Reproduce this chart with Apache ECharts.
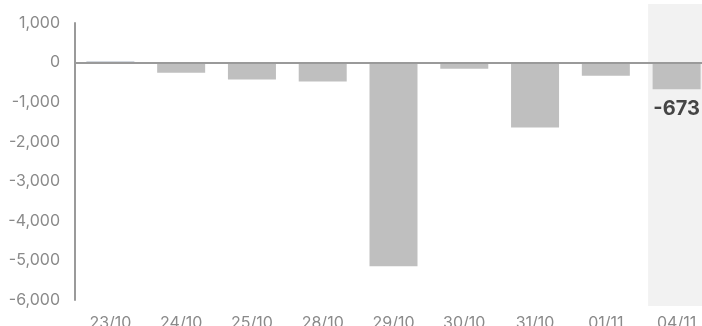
<!DOCTYPE html>
<html>
<head>
<meta charset="utf-8">
<script src="https://cdn.jsdelivr.net/npm/echarts@6/dist/echarts.min.js"></script>
<style>
  html, body { margin: 0; padding: 0; background: #ffffff; overflow: hidden; }
  /* the last category band runs a little past the visible edge */
  #chart { width: 712px; height: 326px; }
</style>
</head>
<body>
<div id="chart"></div>
<script>
// Daily net flow by trading date
const categories = ['23/10', '24/10', '25/10', '28/10', '29/10', '30/10', '31/10', '01/11', '04/11'];
const values = [20, -255, -430, -480, -5150, -155, -1640, -330, -673];
const yTicks = { min: -6000, max: 1000, interval: 1000 };
const highlightIndex = 8; // latest session, shaded and labelled

const FONT = 'Inter, "Noto Sans", sans-serif';

const barData = values.map((v, i) => {
  const item = {
    value: v,
    itemStyle: { color: v >= 0 ? '#4f6381' : '#bfbfbf' }
  };
  if (i === highlightIndex) {
    item.label = {
      show: true,
      position: 'bottom',
      distance: 10,
      formatter: String(v),
      color: '#454545',
      fontFamily: FONT,
      fontSize: 20,
      fontWeight: 'bold'
    };
  }
  return item;
});

const shadeData = categories.map((c, i) => (i === highlightIndex ? 1 : null));

const chart = echarts.init(document.getElementById('chart'), null, { renderer: 'canvas' });
chart.setOption({
  animation: false,
  backgroundColor: '#ffffff',
  grid: [
    { left: 75, right: 0, top: 23, bottom: 26, outerBoundsMode: 'none' },
    { left: 75, right: 0, top: 4, bottom: 20, outerBoundsMode: 'none' }
  ],
  xAxis: [
    {
      type: 'category',
      gridIndex: 0,
      data: categories,
      axisLine: { onZero: true, lineStyle: { color: '#9a9a9a', width: 2 } },
      axisTick: { show: false },
      axisLabel: {
        color: '#8a8a8a',
        fontFamily: FONT,
        fontSize: 16,
        margin: 15,
        interval: 0
      },
      z: 3
    },
    {
      type: 'category',
      gridIndex: 1,
      data: categories,
      show: false
    }
  ],
  yAxis: [
    {
      type: 'value',
      gridIndex: 0,
      min: yTicks.min,
      max: yTicks.max,
      interval: yTicks.interval,
      axisLine: { show: true, lineStyle: { color: '#9a9a9a', width: 2 } },
      axisTick: { show: false },
      splitLine: { show: false },
      axisLabel: {
        color: '#8a8a8a',
        fontFamily: FONT,
        fontSize: 16,
        margin: 15,
        formatter: v => v.toLocaleString('en-US')
      },
      z: 3
    },
    {
      type: 'value',
      gridIndex: 1,
      min: 0,
      max: 1,
      show: false
    }
  ],
  series: [
    {
      type: 'bar',
      xAxisIndex: 1,
      yAxisIndex: 1,
      data: shadeData,
      barWidth: 57,
      itemStyle: { color: '#f2f2f2' },
      silent: true,
      z: 0
    },
    {
      type: 'bar',
      xAxisIndex: 0,
      yAxisIndex: 0,
      data: barData,
      barWidth: 48,
      z: 2
    }
  ]
});
</script>
</body>
</html>
